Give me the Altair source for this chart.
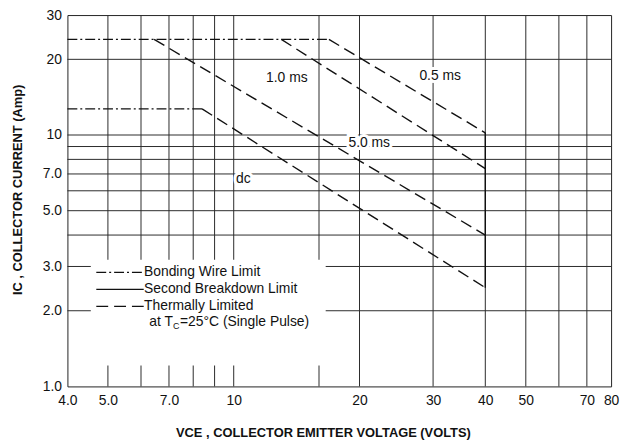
import altair as alt
import pandas as pd

# ---------------- data ----------------
x_ticks = [4, 5, 7, 10, 20, 30, 40, 50, 70, 80]
y_ticks = [1, 2, 3, 5, 7, 10, 20, 30]
vgrid_x = [5, 6, 7, 8, 9, 10, 16, 20, 30, 40, 50, 60, 70]
hgrid_y = [2, 3, 4, 5, 6, 7, 8, 9, 10, 20]

series_names = ["bond_top", "bond_dc", "t_0.5ms", "t_1.0ms", "t_5.0ms", "t_dc", "breakdown"]
series_style = ["Bonding", "Bonding", "Thermal", "Thermal", "Thermal", "Thermal", "Second"]
series_x = [[4.0, 16.9], [4.0, 8.4], [16.9, 40], [13.0, 40], [6.45, 40], [8.4, 40], [40, 40]]
series_y = [[24, 24], [12.7, 12.7], [24, 10.2], [24, 7.35], [24, 4.0], [12.7, 2.47], [10.2, 2.47]]

curve_labels = ["0.5 ms", "1.0 ms", "5.0 ms", "dc"]
curve_label_x = [31.2, 13.4, 21.1, 10.55]
curve_label_y = [17.2, 16.9, 9.3, 6.71]

legend_names = ["Bonding Wire Limit", "Second Breakdown Limit", "Thermally Limited"]
legend_style = ["Bonding", "Second", "Thermal"]
legend_y = [2.84, 2.43, 2.08]
note_y = 1.80

# ---------------- layout constants ----------------
LEG_X0, LEG_X1, LEG_TX = 4.69, 6.09, 6.1
NOTE_X = 6.28
BOX_X0, BOX_X1, BOX_Y0, BOX_Y1 = 4.55, 16.6, 1.21, 3.19
INK = "#111111"
GRID = "#2a2a2a"
FONT = "Liberation Sans"

styles = ["Bonding", "Second", "Thermal"]
dashes = [[10, 3, 2, 3], [1, 0], [12, 6]]

# ---------------- tables ----------------
rows = []
for n, s, xs_, ys_ in zip(series_names, series_style, series_x, series_y):
    for i, (xv, yv) in enumerate(zip(xs_, ys_)):
        rows.append({"series": n, "style": s, "i": i, "x": xv, "y": yv})
curves = pd.DataFrame(rows)
vgrid = pd.DataFrame({"x": vgrid_x})
hgrid = pd.DataFrame({"y": hgrid_y})
labels = pd.DataFrame({"label": curve_labels, "x": curve_label_x, "y": curve_label_y})
legend = pd.DataFrame({"name": legend_names, "style": legend_style, "y": legend_y,
                       "x0": [LEG_X0] * 3, "x1": [LEG_X1] * 3, "tx": [LEG_TX] * 3})
box = pd.DataFrame({"x0": [BOX_X0], "x1": [BOX_X1], "y0": [BOX_Y0], "y1": [BOX_Y1]})
note = pd.DataFrame({"x": [NOTE_X], "y": [note_y]})

# ---------------- scales / axes ----------------
xs = alt.Scale(type="log", domain=[4, 80], nice=False)
ys = alt.Scale(type="log", domain=[1, 30], nice=False)

XTITLE = "VCE , COLLECTOR EMITTER VOLTAGE (VOLTS)"
YTITLE = "IC , COLLECTOR CURRENT (Amp)"
lab = "datum.value < 10 ? format(datum.value, '.1f') : format(datum.value, 'd')"

xaxis = alt.Axis(values=x_ticks, labelExpr=lab, grid=False, ticks=False, domain=False,
                 labelFont=FONT, labelFontSize=14, labelColor=INK, labelPadding=7,
                 labelFlush=False, labelOverlap=False,
                 title=XTITLE, titleFont=FONT, titleFontSize=13, titleFontWeight="bold",
                 titleColor=INK, titleX=258, titleY=47, titleAlign="center",
                 titleBaseline="middle")
yaxis = alt.Axis(values=y_ticks, labelExpr=lab, grid=False, ticks=False, domain=False,
                 labelFont=FONT, labelFontSize=14, labelColor=INK, labelPadding=6,
                 labelFlush=False, labelOverlap=False,
                 title=YTITLE, titleFont=FONT, titleFontSize=13, titleFontWeight="bold",
                 titleColor=INK, titleX=-50, titleY=176, titleAngle=270,
                 titleAlign="center", titleBaseline="middle")


def X(f):
    return alt.X(f, type="quantitative", scale=xs, axis=xaxis, title=XTITLE)


def Y(f):
    return alt.Y(f, type="quantitative", scale=ys, axis=yaxis, title=YTITLE)


dash_enc = alt.StrokeDash("style:N", scale=alt.Scale(domain=styles, range=dashes), legend=None)

hg = alt.Chart(hgrid).mark_rule(color=GRID, strokeWidth=1).encode(y=Y("y"))
vg = alt.Chart(vgrid).mark_rule(color=GRID, strokeWidth=1).encode(x=X("x"))
bx = alt.Chart(box).mark_rect(fill="white").encode(
    x=X("x0"), x2="x1", y=Y("y0"), y2="y1")

lines = alt.Chart(curves).mark_line(color=INK, strokeWidth=1.4).encode(
    x=X("x"), y=Y("y"), detail="series:N", order="i:Q", strokeDash=dash_enc)

leg_lines = alt.Chart(legend).mark_rule(color=INK, strokeWidth=1.3).encode(
    x=X("x0"), x2="x1", y=Y("y"), strokeDash=dash_enc)
leg_text = alt.Chart(legend).mark_text(align="left", baseline="middle", font=FONT,
                                       fontSize=14, color=INK).encode(
    x=X("tx"), y=Y("y"), text="name:N")

note1 = alt.Chart(note).mark_text(align="left", baseline="middle", font=FONT,
                                  fontSize=14, color=INK, text="at T").encode(x=X("x"), y=Y("y"))
note2 = alt.Chart(note).mark_text(align="left", baseline="middle", font=FONT,
                                  fontSize=9, color=INK, text="C", dx=24, dy=4).encode(x=X("x"), y=Y("y"))
note3 = alt.Chart(note).mark_text(align="left", baseline="middle", font=FONT,
                                  fontSize=14, color=INK, text="=25°C (Single Pulse)",
                                  dx=31).encode(x=X("x"), y=Y("y"))

halo = alt.Chart(labels).mark_text(align="center", baseline="middle", font=FONT, fontSize=14,
                                   color="white", stroke="white", strokeWidth=6).encode(
    x=X("x"), y=Y("y"), text="label:N")
ltext = alt.Chart(labels).mark_text(align="center", baseline="middle", font=FONT, fontSize=14,
                                    color=INK).encode(x=X("x"), y=Y("y"), text="label:N")

chart = alt.layer(hg, vg, bx, lines, leg_lines, leg_text, note1, note2, note3, halo, ltext).properties(
    width=549, height=375,
    autosize=alt.AutoSizeParams(type="none"),
    padding={"left": 60, "top": 5, "right": 10, "bottom": 55},
).configure(font=FONT).configure_view(stroke="#222222", strokeWidth=1)

chart.save("out.html", embed_options={"renderer": "svg", "actions": False})
